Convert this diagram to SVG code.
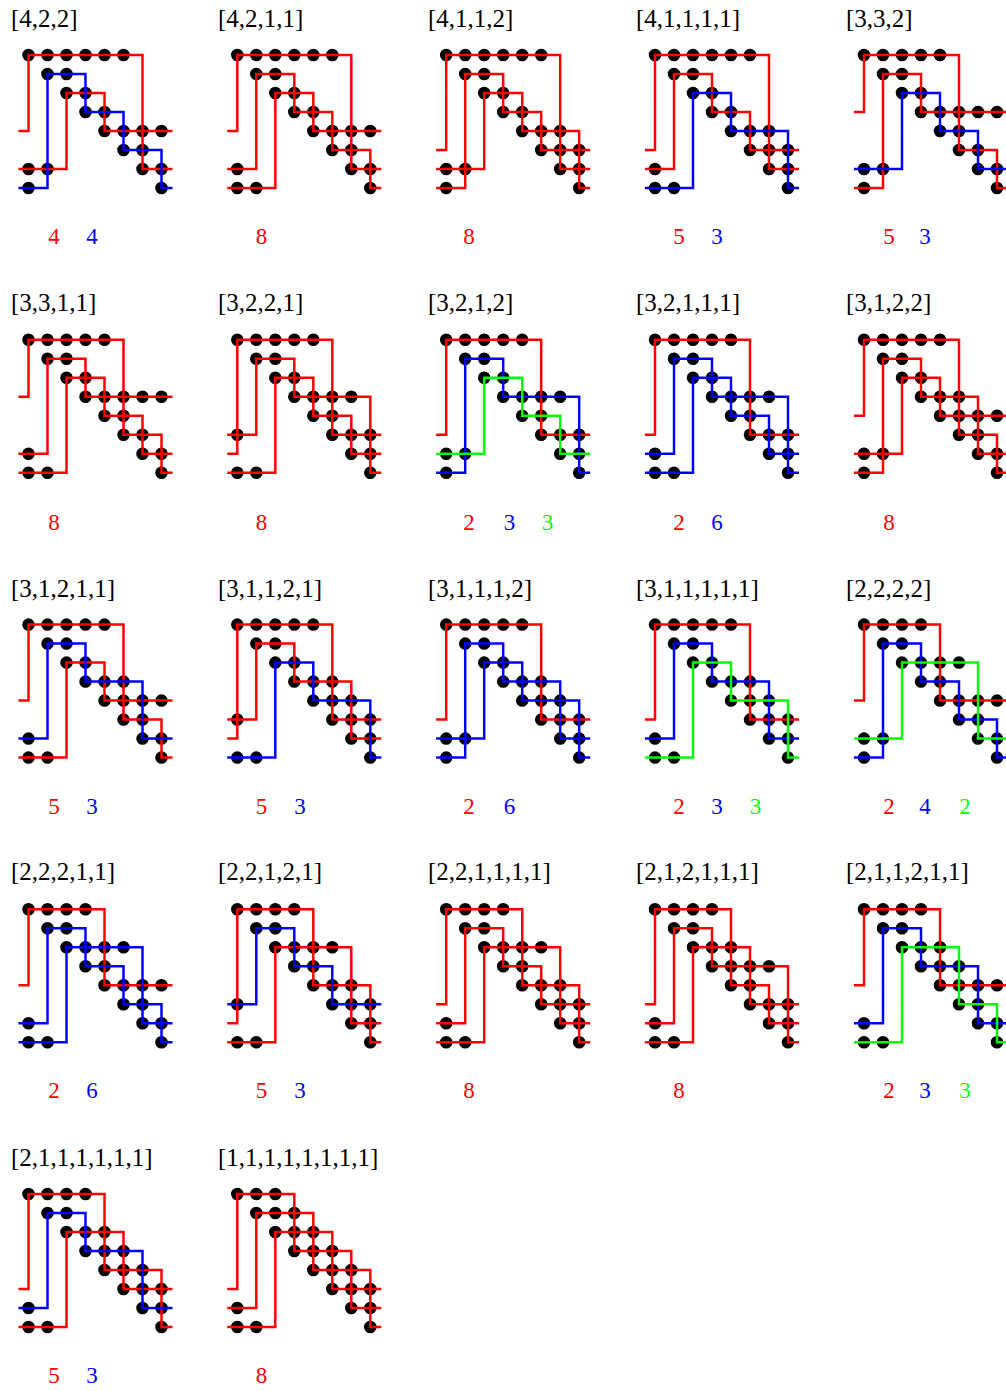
<svg xmlns="http://www.w3.org/2000/svg" width="1006" height="1391" viewBox="0 0 1006 1391">
<style>
.l{font:25px "Liberation Serif",serif;fill:#000}
.n{font:23px "Liberation Serif",serif;text-anchor:middle}
.nr{fill:#f00}.nb{fill:#00f}.ng{fill:#0f0}
.d{fill:none;stroke:#000;stroke-width:.66;stroke-linecap:round}
.r,.b,.g{fill:none;stroke-width:.13;stroke-linejoin:miter}
.r{stroke:#f00}.b{stroke:#00f}.g{stroke:#0f0}
</style>
<rect width="1006" height="1391" fill="#fff"/>
<g id="panel-4-2-2"><text class="l" x="11" y="27">[4,2,2]</text><text class="n nr" x="54" y="244">4</text><text class="n nb" x="92" y="244">4</text><path class="d" transform="translate(28.5 55) scale(19)" d="M0 0h0M1 0h0M2 0h0M3 0h0M4 0h0M5 0h0M1 1h0M2 1h0M2 2h0M3 2h0M3 3h0M4 3h0M4 4h0M5 4h0M6 4h0M7 4h0M5 5h0M6 5h0M6 6h0M7 6h0M0 6h0M1 6h0M7 7h0M0 7h0"/></g>
<g id="panel-4-2-1-1"><text class="l" x="218" y="27">[4,2,1,1]</text><text class="n nr" x="261.5" y="244">8</text><path class="d" transform="translate(237.3 55) scale(19)" d="M0 0h0M1 0h0M2 0h0M3 0h0M4 0h0M5 0h0M1 1h0M2 1h0M2 2h0M3 2h0M3 3h0M4 3h0M4 4h0M5 4h0M6 4h0M7 4h0M5 5h0M6 5h0M6 6h0M7 6h0M0 6h0M7 7h0M0 7h0M1 7h0"/></g>
<g id="panel-4-1-1-2"><text class="l" x="428" y="27">[4,1,1,2]</text><text class="n nr" x="469" y="244">8</text><path class="d" transform="translate(446.2 55) scale(19)" d="M0 0h0M1 0h0M2 0h0M3 0h0M4 0h0M5 0h0M1 1h0M2 1h0M2 2h0M3 2h0M3 3h0M4 3h0M4 4h0M5 4h0M6 4h0M5 5h0M6 5h0M7 5h0M6 6h0M7 6h0M0 6h0M1 6h0M7 7h0M0 7h0"/></g>
<g id="panel-4-1-1-1-1"><text class="l" x="636" y="27">[4,1,1,1,1]</text><text class="n nr" x="679" y="244">5</text><text class="n nb" x="717" y="244">3</text><path class="d" transform="translate(655 55) scale(19)" d="M0 0h0M1 0h0M2 0h0M3 0h0M4 0h0M5 0h0M1 1h0M2 1h0M2 2h0M3 2h0M3 3h0M4 3h0M4 4h0M5 4h0M6 4h0M5 5h0M6 5h0M7 5h0M6 6h0M7 6h0M0 6h0M7 7h0M0 7h0M1 7h0"/></g>
<g id="panel-3-3-2"><text class="l" x="846" y="27">[3,3,2]</text><text class="n nr" x="889" y="244">5</text><text class="n nb" x="925" y="244">3</text><path class="d" transform="translate(864 55) scale(19)" d="M0 0h0M1 0h0M2 0h0M3 0h0M4 0h0M1 1h0M2 1h0M2 2h0M3 2h0M3 3h0M4 3h0M5 3h0M6 3h0M7 3h0M4 4h0M5 4h0M5 5h0M6 5h0M6 6h0M7 6h0M0 6h0M1 6h0M7 7h0M0 7h0"/></g>
<g id="panel-3-3-1-1"><text class="l" x="11" y="311">[3,3,1,1]</text><text class="n nr" x="54" y="529.5">8</text><path class="d" transform="translate(28.5 339.8) scale(19)" d="M0 0h0M1 0h0M2 0h0M3 0h0M4 0h0M1 1h0M2 1h0M2 2h0M3 2h0M3 3h0M4 3h0M5 3h0M6 3h0M7 3h0M4 4h0M5 4h0M5 5h0M6 5h0M6 6h0M7 6h0M0 6h0M7 7h0M0 7h0M1 7h0"/></g>
<g id="panel-3-2-2-1"><text class="l" x="218" y="311">[3,2,2,1]</text><text class="n nr" x="261.5" y="529.5">8</text><path class="d" transform="translate(237.3 339.8) scale(19)" d="M0 0h0M1 0h0M2 0h0M3 0h0M4 0h0M1 1h0M2 1h0M2 2h0M3 2h0M3 3h0M4 3h0M5 3h0M6 3h0M4 4h0M5 4h0M5 5h0M6 5h0M7 5h0M0 5h0M6 6h0M7 6h0M7 7h0M0 7h0M1 7h0"/></g>
<g id="panel-3-2-1-2"><text class="l" x="428" y="311">[3,2,1,2]</text><text class="n nr" x="469" y="529.5">2</text><text class="n nb" x="509.5" y="529.5">3</text><text class="n ng" x="547.5" y="529.5">3</text><path class="d" transform="translate(446.2 339.8) scale(19)" d="M0 0h0M1 0h0M2 0h0M3 0h0M4 0h0M1 1h0M2 1h0M2 2h0M3 2h0M3 3h0M4 3h0M5 3h0M6 3h0M4 4h0M5 4h0M5 5h0M6 5h0M7 5h0M6 6h0M7 6h0M0 6h0M1 6h0M7 7h0M0 7h0"/></g>
<g id="panel-3-2-1-1-1"><text class="l" x="636" y="311">[3,2,1,1,1]</text><text class="n nr" x="679" y="529.5">2</text><text class="n nb" x="717" y="529.5">6</text><path class="d" transform="translate(655 339.8) scale(19)" d="M0 0h0M1 0h0M2 0h0M3 0h0M4 0h0M1 1h0M2 1h0M2 2h0M3 2h0M3 3h0M4 3h0M5 3h0M6 3h0M4 4h0M5 4h0M5 5h0M6 5h0M7 5h0M6 6h0M7 6h0M0 6h0M7 7h0M0 7h0M1 7h0"/></g>
<g id="panel-3-1-2-2"><text class="l" x="846" y="311">[3,1,2,2]</text><text class="n nr" x="889" y="529.5">8</text><path class="d" transform="translate(864 339.8) scale(19)" d="M0 0h0M1 0h0M2 0h0M3 0h0M4 0h0M1 1h0M2 1h0M2 2h0M3 2h0M3 3h0M4 3h0M5 3h0M4 4h0M5 4h0M6 4h0M7 4h0M5 5h0M6 5h0M6 6h0M7 6h0M0 6h0M1 6h0M7 7h0M0 7h0"/></g>
<g id="panel-3-1-2-1-1"><text class="l" x="11" y="597">[3,1,2,1,1]</text><text class="n nr" x="54" y="813.5">5</text><text class="n nb" x="92" y="813.5">3</text><path class="d" transform="translate(28.5 624.6) scale(19)" d="M0 0h0M1 0h0M2 0h0M3 0h0M4 0h0M1 1h0M2 1h0M2 2h0M3 2h0M3 3h0M4 3h0M5 3h0M4 4h0M5 4h0M6 4h0M7 4h0M5 5h0M6 5h0M6 6h0M7 6h0M0 6h0M7 7h0M0 7h0M1 7h0"/></g>
<g id="panel-3-1-1-2-1"><text class="l" x="218" y="597">[3,1,1,2,1]</text><text class="n nr" x="261.5" y="813.5">5</text><text class="n nb" x="300" y="813.5">3</text><path class="d" transform="translate(237.3 624.6) scale(19)" d="M0 0h0M1 0h0M2 0h0M3 0h0M4 0h0M1 1h0M2 1h0M2 2h0M3 2h0M3 3h0M4 3h0M5 3h0M4 4h0M5 4h0M6 4h0M5 5h0M6 5h0M7 5h0M0 5h0M6 6h0M7 6h0M7 7h0M0 7h0M1 7h0"/></g>
<g id="panel-3-1-1-1-2"><text class="l" x="428" y="597">[3,1,1,1,2]</text><text class="n nr" x="469" y="813.5">2</text><text class="n nb" x="509.5" y="813.5">6</text><path class="d" transform="translate(446.2 624.6) scale(19)" d="M0 0h0M1 0h0M2 0h0M3 0h0M4 0h0M1 1h0M2 1h0M2 2h0M3 2h0M3 3h0M4 3h0M5 3h0M4 4h0M5 4h0M6 4h0M5 5h0M6 5h0M7 5h0M6 6h0M7 6h0M0 6h0M1 6h0M7 7h0M0 7h0"/></g>
<g id="panel-3-1-1-1-1-1"><text class="l" x="636" y="597">[3,1,1,1,1,1]</text><text class="n nr" x="679" y="813.5">2</text><text class="n nb" x="717" y="813.5">3</text><text class="n ng" x="755.5" y="813.5">3</text><path class="d" transform="translate(655 624.6) scale(19)" d="M0 0h0M1 0h0M2 0h0M3 0h0M4 0h0M1 1h0M2 1h0M2 2h0M3 2h0M3 3h0M4 3h0M5 3h0M4 4h0M5 4h0M6 4h0M5 5h0M6 5h0M7 5h0M6 6h0M7 6h0M0 6h0M7 7h0M0 7h0M1 7h0"/></g>
<g id="panel-2-2-2-2"><text class="l" x="846" y="597">[2,2,2,2]</text><text class="n nr" x="889" y="813.5">2</text><text class="n nb" x="925" y="813.5">4</text><text class="n ng" x="965" y="813.5">2</text><path class="d" transform="translate(864 624.6) scale(19)" d="M0 0h0M1 0h0M2 0h0M3 0h0M1 1h0M2 1h0M2 2h0M3 2h0M4 2h0M5 2h0M3 3h0M4 3h0M4 4h0M5 4h0M6 4h0M7 4h0M5 5h0M6 5h0M6 6h0M7 6h0M0 6h0M1 6h0M7 7h0M0 7h0"/></g>
<g id="panel-2-2-2-1-1"><text class="l" x="11" y="880">[2,2,2,1,1]</text><text class="n nr" x="54" y="1097.5">2</text><text class="n nb" x="92" y="1097.5">6</text><path class="d" transform="translate(28.5 909.3) scale(19)" d="M0 0h0M1 0h0M2 0h0M3 0h0M1 1h0M2 1h0M2 2h0M3 2h0M4 2h0M5 2h0M3 3h0M4 3h0M4 4h0M5 4h0M6 4h0M7 4h0M5 5h0M6 5h0M6 6h0M7 6h0M0 6h0M7 7h0M0 7h0M1 7h0"/></g>
<g id="panel-2-2-1-2-1"><text class="l" x="218" y="880">[2,2,1,2,1]</text><text class="n nr" x="261.5" y="1097.5">5</text><text class="n nb" x="300" y="1097.5">3</text><path class="d" transform="translate(237.3 909.3) scale(19)" d="M0 0h0M1 0h0M2 0h0M3 0h0M1 1h0M2 1h0M2 2h0M3 2h0M4 2h0M5 2h0M3 3h0M4 3h0M4 4h0M5 4h0M6 4h0M5 5h0M6 5h0M7 5h0M0 5h0M6 6h0M7 6h0M7 7h0M0 7h0M1 7h0"/></g>
<g id="panel-2-2-1-1-1-1"><text class="l" x="428" y="880">[2,2,1,1,1,1]</text><text class="n nr" x="469" y="1097.5">8</text><path class="d" transform="translate(446.2 909.3) scale(19)" d="M0 0h0M1 0h0M2 0h0M3 0h0M1 1h0M2 1h0M2 2h0M3 2h0M4 2h0M5 2h0M3 3h0M4 3h0M4 4h0M5 4h0M6 4h0M5 5h0M6 5h0M7 5h0M6 6h0M7 6h0M0 6h0M7 7h0M0 7h0M1 7h0"/></g>
<g id="panel-2-1-2-1-1-1"><text class="l" x="636" y="880">[2,1,2,1,1,1]</text><text class="n nr" x="679" y="1097.5">8</text><path class="d" transform="translate(655 909.3) scale(19)" d="M0 0h0M1 0h0M2 0h0M3 0h0M1 1h0M2 1h0M2 2h0M3 2h0M4 2h0M3 3h0M4 3h0M5 3h0M6 3h0M4 4h0M5 4h0M5 5h0M6 5h0M7 5h0M6 6h0M7 6h0M0 6h0M7 7h0M0 7h0M1 7h0"/></g>
<g id="panel-2-1-1-2-1-1"><text class="l" x="846" y="880">[2,1,1,2,1,1]</text><text class="n nr" x="889" y="1097.5">2</text><text class="n nb" x="925" y="1097.5">3</text><text class="n ng" x="965" y="1097.5">3</text><path class="d" transform="translate(864 909.3) scale(19)" d="M0 0h0M1 0h0M2 0h0M3 0h0M1 1h0M2 1h0M2 2h0M3 2h0M4 2h0M3 3h0M4 3h0M5 3h0M4 4h0M5 4h0M6 4h0M7 4h0M5 5h0M6 5h0M6 6h0M7 6h0M0 6h0M7 7h0M0 7h0M1 7h0"/></g>
<g id="panel-2-1-1-1-1-1-1"><text class="l" x="11" y="1166">[2,1,1,1,1,1,1]</text><text class="n nr" x="54" y="1382.5">5</text><text class="n nb" x="92" y="1382.5">3</text><path class="d" transform="translate(28.5 1194) scale(19)" d="M0 0h0M1 0h0M2 0h0M3 0h0M1 1h0M2 1h0M2 2h0M3 2h0M4 2h0M3 3h0M4 3h0M5 3h0M4 4h0M5 4h0M6 4h0M5 5h0M6 5h0M7 5h0M6 6h0M7 6h0M0 6h0M7 7h0M0 7h0M1 7h0"/></g>
<g id="panel-1-1-1-1-1-1-1-1"><text class="l" x="218" y="1166">[1,1,1,1,1,1,1,1]</text><text class="n nr" x="261.5" y="1382.5">8</text><path class="d" transform="translate(237.3 1194) scale(19)" d="M0 0h0M1 0h0M2 0h0M1 1h0M2 1h0M3 1h0M2 2h0M3 2h0M4 2h0M3 3h0M4 3h0M5 3h0M4 4h0M5 4h0M6 4h0M5 5h0M6 5h0M7 5h0M6 6h0M7 6h0M0 6h0M7 7h0M0 7h0M1 7h0"/></g>
<g id="connectors">
<g transform="translate(28.5 55) scale(19)"><path class="r" d="M-.53 4H0V0H6V6H7.58M-.53 6H2V2H4V4H7.58"/><path class="b" d="M-.53 7H1V1H3V3H5V5H7V7H7.58"/></g>
<g transform="translate(237.3 55) scale(19)"><path class="r" d="M-.53 4H0V0H6V6H7.58M-.53 6H1V1H3V3H5V5H7V7H7.58M-.53 7H2V2H4V4H7.58"/></g>
<g transform="translate(446.2 55) scale(19)"><path class="r" d="M-.53 5H0V0H6V6H7.58M-.53 6H2V2H4V4H7V7H7.58M-.53 7H1V1H3V3H5V5H7.58"/></g>
<g transform="translate(655 55) scale(19)"><path class="r" d="M-.53 5H0V0H6V6H7.58M-.53 6H1V1H3V3H5V5H7.58"/><path class="b" d="M-.53 7H2V2H4V4H7V7H7.58"/></g>
<g transform="translate(864 55) scale(19)"><path class="r" d="M-.53 3H0V0H5V5H7V7H7.58M-.53 7H1V1H3V3H7.58"/><path class="b" d="M-.53 6H2V2H4V4H6V6H7.58"/></g>
<g transform="translate(28.5 339.8) scale(19)"><path class="r" d="M-.53 3H0V0H5V5H7V7H7.58M-.53 6H1V1H3V3H7.58M-.53 7H2V2H4V4H6V6H7.58"/></g>
<g transform="translate(237.3 339.8) scale(19)"><path class="r" d="M-.53 6H0V0H5V5H7.58M-.53 5H1V1H3V3H7V7H7.58M-.53 7H2V2H4V4H6V6H7.58"/></g>
<g transform="translate(446.2 339.8) scale(19)"><path class="r" d="M-.53 5H0V0H5V5H7.58"/><path class="b" d="M-.53 7H1V1H3V3H7V7H7.58"/><path class="g" d="M-.53 6H2V2H4V4H6V6H7.58"/></g>
<g transform="translate(655 339.8) scale(19)"><path class="r" d="M-.53 5H0V0H5V5H7.58"/><path class="b" d="M-.53 6H1V1H3V3H7V7H7.58M-.53 7H2V2H4V4H6V6H7.58"/></g>
<g transform="translate(864 339.8) scale(19)"><path class="r" d="M-.53 4H0V0H5V5H7V7H7.58M-.53 7H1V1H3V3H6V6H7.58M-.53 6H2V2H4V4H7.58"/></g>
<g transform="translate(28.5 624.6) scale(19)"><path class="r" d="M-.53 4H0V0H5V5H7V7H7.58M-.53 7H2V2H4V4H7.58"/><path class="b" d="M-.53 6H1V1H3V3H6V6H7.58"/></g>
<g transform="translate(237.3 624.6) scale(19)"><path class="r" d="M-.53 6H0V0H5V5H7.58M-.53 5H1V1H3V3H6V6H7.58"/><path class="b" d="M-.53 7H2V2H4V4H7V7H7.58"/></g>
<g transform="translate(446.2 624.6) scale(19)"><path class="r" d="M-.53 5H0V0H5V5H7.58"/><path class="b" d="M-.53 7H1V1H3V3H6V6H7.58M-.53 6H2V2H4V4H7V7H7.58"/></g>
<g transform="translate(655 624.6) scale(19)"><path class="r" d="M-.53 5H0V0H5V5H7.58"/><path class="b" d="M-.53 6H1V1H3V3H6V6H7.58"/><path class="g" d="M-.53 7H2V2H4V4H7V7H7.58"/></g>
<g transform="translate(864 624.6) scale(19)"><path class="r" d="M-.53 4H0V0H4V4H7.58"/><path class="b" d="M-.53 7H1V1H3V3H5V5H7V7H7.58"/><path class="g" d="M-.53 6H2V2H6V6H7.58"/></g>
<g transform="translate(28.5 909.3) scale(19)"><path class="r" d="M-.53 4H0V0H4V4H7.58"/><path class="b" d="M-.53 6H1V1H3V3H5V5H7V7H7.58M-.53 7H2V2H6V6H7.58"/></g>
<g transform="translate(237.3 909.3) scale(19)"><path class="r" d="M-.53 6H0V0H4V4H7V7H7.58M-.53 7H2V2H6V6H7.58"/><path class="b" d="M-.53 5H1V1H3V3H5V5H7.58"/></g>
<g transform="translate(446.2 909.3) scale(19)"><path class="r" d="M-.53 5H0V0H4V4H7V7H7.58M-.53 7H2V2H6V6H7.58M-.53 6H1V1H3V3H5V5H7.58"/></g>
<g transform="translate(655 909.3) scale(19)"><path class="r" d="M-.53 5H0V0H4V4H6V6H7.58M-.53 6H1V1H3V3H7V7H7.58M-.53 7H2V2H5V5H7.58"/></g>
<g transform="translate(864 909.3) scale(19)"><path class="r" d="M-.53 4H0V0H4V4H7.58"/><path class="b" d="M-.53 6H1V1H3V3H6V6H7.58"/><path class="g" d="M-.53 7H2V2H5V5H7V7H7.58"/></g>
<g transform="translate(28.5 1194) scale(19)"><path class="r" d="M-.53 5H0V0H4V4H7V7H7.58M-.53 7H2V2H5V5H7.58"/><path class="b" d="M-.53 6H1V1H3V3H6V6H7.58"/></g>
<g transform="translate(237.3 1194) scale(19)"><path class="r" d="M-.53 5H0V0H3V3H6V6H7.58M-.53 6H1V1H4V4H7V7H7.58M-.53 7H2V2H5V5H7.58"/></g>
</g>
</svg>
